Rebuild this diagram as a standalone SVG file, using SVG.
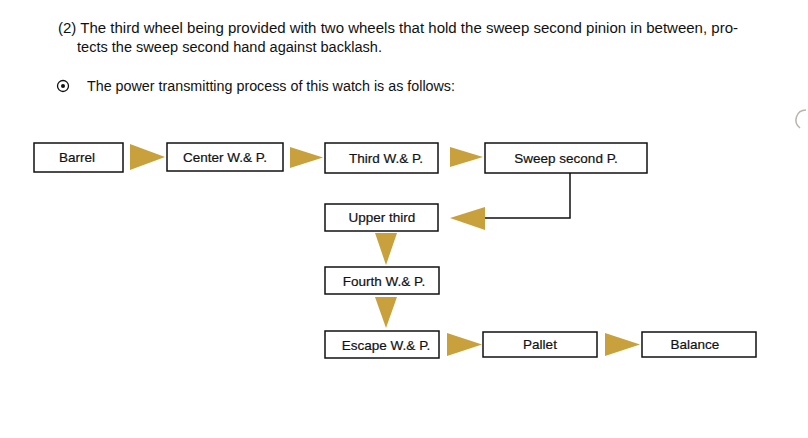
<svg xmlns="http://www.w3.org/2000/svg" width="808" height="438" viewBox="0 0 808 438">
<style>
.para{font-family:"Liberation Sans",Arial,sans-serif;font-size:14px;fill:#111}
.box rect{fill:#fff;stroke:#111;stroke-width:1.5}
.box text{font-family:"Liberation Sans",Arial,sans-serif;font-size:13.5px;fill:#111;text-anchor:middle;stroke:#111;stroke-width:0.2}
.arr{fill:#c9a13c}
.line{fill:none;stroke:#111;stroke-width:1.5}
</style>
<rect width="808" height="438" fill="#fff"/>
<text class="para" x="58" y="33" textLength="680" lengthAdjust="spacingAndGlyphs">(2) The third wheel being provided with two wheels that hold the sweep second pinion in between, pro-</text>
<text class="para" x="77" y="52" textLength="305" lengthAdjust="spacingAndGlyphs">tects the sweep second hand against backlash.</text>
<circle cx="63" cy="86" r="5.5" fill="none" stroke="#111" stroke-width="1.3"/>
<circle cx="63" cy="86" r="2" fill="#111"/>
<text class="para" x="87" y="91" textLength="368" lengthAdjust="spacingAndGlyphs">The power transmitting process of this watch is as follows:</text>
<path d="M806 110 A10 10 0 0 0 800 128" fill="none" stroke="#b9b4aa" stroke-width="1.5"/>

<g id="connectors">
<polygon class="arr" points="130,144 165,157 130,170"/>
<polygon class="arr" points="290,147 323,157.5 290,168"/>
<polygon class="arr" points="450,147 483,157 450,167"/>
<polyline class="line" points="570,173 570,218 484,218"/>
<polygon class="arr" points="485,207 450,218 485,230"/>
<polygon class="arr" points="375,233 397,233 386,265"/>
<polygon class="arr" points="375,297 397,297 386,328"/>
<polygon class="arr" points="447,333 482,344.5 447,356"/>
<polygon class="arr" points="605,333 640,344.5 605,356"/>
</g>

<g id="barrel" class="box"><rect x="34" y="143" width="89" height="29"/><text x="77" y="162">Barrel</text></g>
<g id="center" class="box"><rect x="167" y="143" width="116" height="28"/><text x="225" y="162">Center W.&amp; P.</text></g>
<g id="third" class="box"><rect x="325" y="143" width="113" height="30"/><text x="386" y="163">Third W.&amp; P.</text></g>
<g id="sweep" class="box"><rect x="485" y="143" width="162" height="30"/><text x="566" y="163">Sweep second P.</text></g>
<g id="upper" class="box"><rect x="325" y="204" width="113" height="27"/><text x="382" y="222">Upper third</text></g>
<g id="fourth" class="box"><rect x="325" y="267" width="114" height="27"/><text x="384" y="286">Fourth W.&amp; P.</text></g>
<g id="escape" class="box"><rect x="325" y="331" width="114" height="27"/><text x="386" y="350">Escape W.&amp; P.</text></g>
<g id="pallet" class="box"><rect x="483" y="332" width="114" height="25"/><text x="540" y="349">Pallet</text></g>
<g id="balance" class="box"><rect x="642" y="332" width="114" height="25"/><text x="695" y="349">Balance</text></g>
</svg>
